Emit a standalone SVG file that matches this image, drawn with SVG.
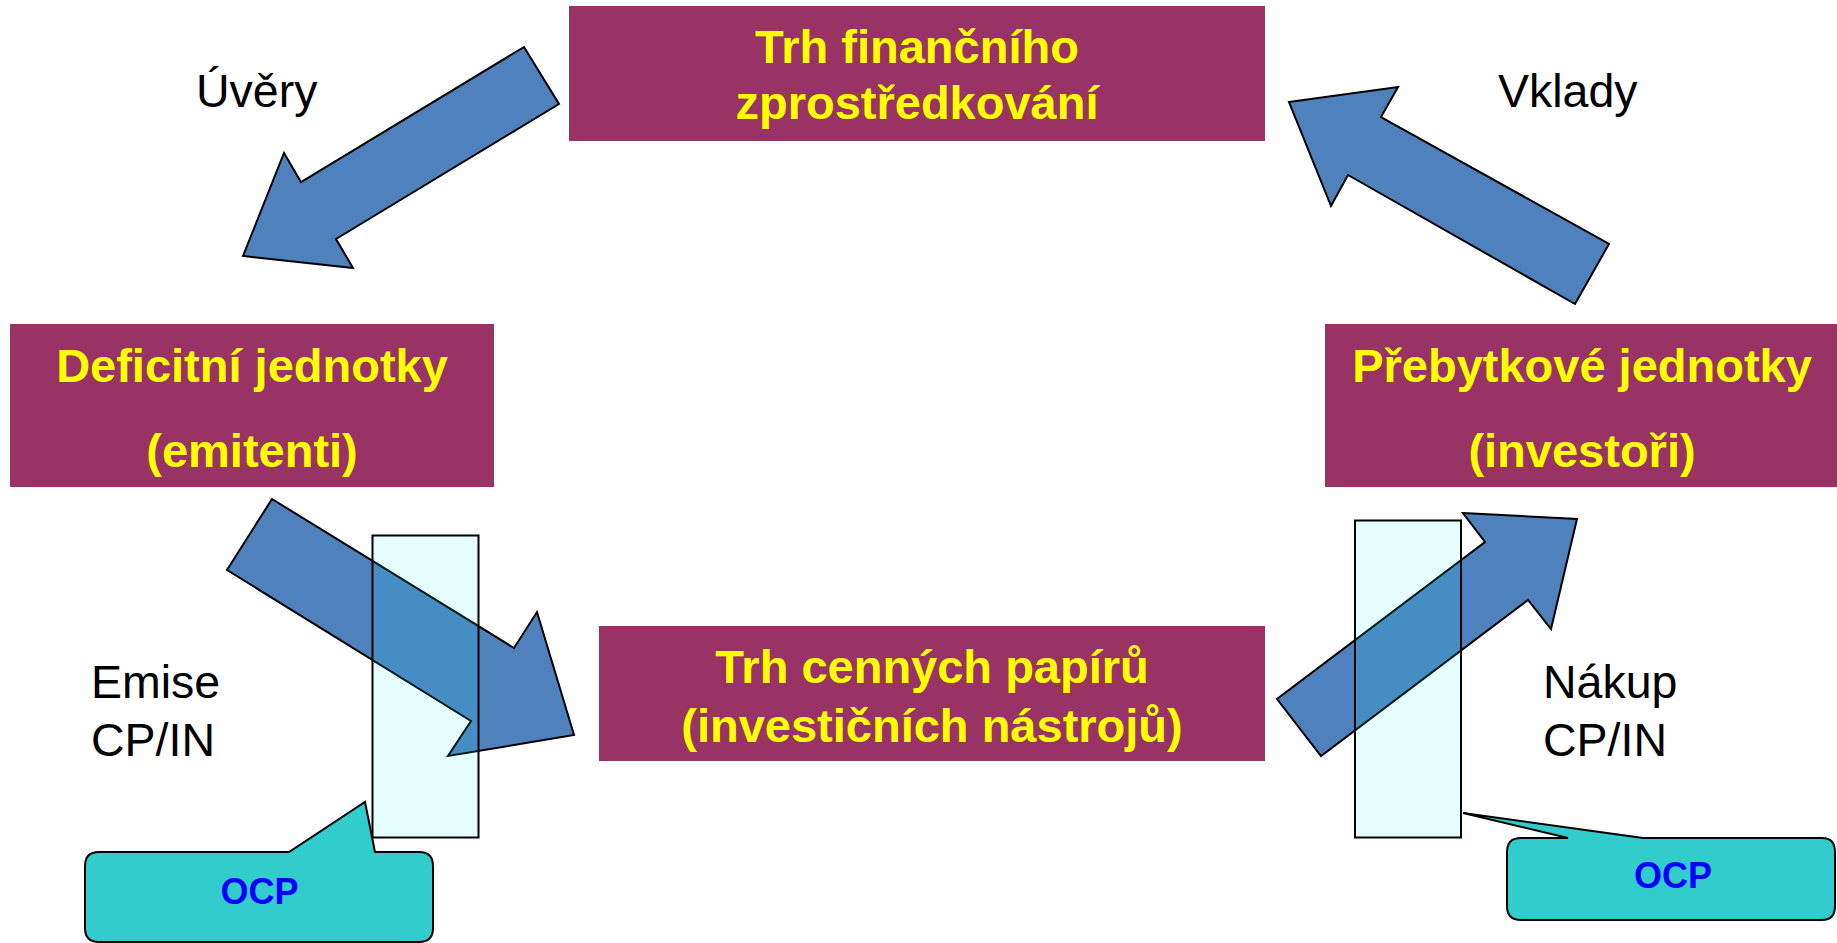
<svg xmlns="http://www.w3.org/2000/svg" width="1837" height="943" viewBox="0 0 1837 943">
<style>
.box{fill:#993366}
.bt{font-family:"Liberation Sans",Arial,sans-serif;font-weight:bold;font-size:47px;fill:#FFFF00;text-anchor:middle}
.lbl{font-family:"Liberation Sans",Arial,sans-serif;font-size:46.5px;fill:#000}
.arr{fill:#4F81BD;stroke:#000;stroke-width:2;stroke-linejoin:miter}
.ocp{fill:#00FFFF;fill-opacity:0.1;stroke:#000;stroke-width:2}
.call{fill:#33CCCC;stroke:#000;stroke-width:2}
.ct{font-family:"Liberation Sans",Arial,sans-serif;font-weight:bold;font-size:36px;fill:#0000FF;text-anchor:middle}
</style>
<rect width="1837" height="943" fill="#fff"/>
<g id="node-trh-fin">
<rect class="box" x="569" y="6" width="696" height="135"/>
<text class="bt" x="917" y="63">Trh finančního</text>
<text class="bt" x="917" y="119">zprostředkování</text>
</g>
<g id="node-deficitni">
<rect class="box" x="10" y="324" width="484" height="163"/>
<text class="bt" x="252" y="382">Deficitní jednotky</text>
<text class="bt" x="252" y="467">(emitenti)</text>
</g>
<g id="node-prebytkove">
<rect class="box" x="1325" y="324" width="512" height="163"/>
<text class="bt" x="1582" y="382">Přebytkové jednotky</text>
<text class="bt" x="1582" y="467">(investoři)</text>
</g>
<g id="node-trh-cp">
<rect class="box" x="599" y="626" width="666" height="135"/>
<text class="bt" x="932" y="683">Trh cenných papírů</text>
<text class="bt" x="932" y="742">(investičních nástrojů)</text>
</g>
<g id="connectors">
<polygon class="arr" points="524,47 559,104 336,239 353,268 243,256 284,153 301,182"/>
<polygon class="arr" points="1289,102 1398,87 1381,117 1609,244 1575,304 1348,175 1331,206"/>
<polygon class="arr" points="272,499 514,648 537,612 574,735 448,756 471,721 227,570"/>
<polygon class="arr" points="1463,513 1577,519 1551,629 1528,600 1321,756 1277,699 1485,542"/>
</g>
<g id="labels">
<text class="lbl" x="196" y="107">Úvěry</text>
<text class="lbl" x="1498" y="107">Vklady</text>
<text class="lbl" x="91" y="698">Emise</text>
<text class="lbl" x="91" y="756">CP/IN</text>
<text class="lbl" x="1543" y="698">Nákup</text>
<text class="lbl" x="1543" y="756">CP/IN</text>
</g>
<g id="node-ocp-left-zone">
<rect class="ocp" x="372.5" y="535.5" width="106" height="302"/>
</g>
<g id="node-ocp-right-zone">
<rect class="ocp" x="1355" y="520.5" width="106" height="317"/>
</g>
<g id="node-ocp-left">
<path class="call" d="M99,852 L289,852 L365,802 L375,852 L419,852 Q433,852 433,866 L433,928 Q433,942 419,942 L99,942 Q85,942 85,928 L85,866 Q85,852 99,852 Z"/>
<text class="ct" x="259.5" y="904">OCP</text>
</g>
<g id="node-ocp-right">
<path class="call" d="M1521,838 L1568,838 L1463,813 L1643,838 L1822,838 Q1835,838 1835,852 L1835,906 Q1835,920 1822,920 L1521,920 Q1507,920 1507,906 L1507,852 Q1507,838 1521,838 Z"/>
<text class="ct" x="1673" y="888">OCP</text>
</g>
</svg>
